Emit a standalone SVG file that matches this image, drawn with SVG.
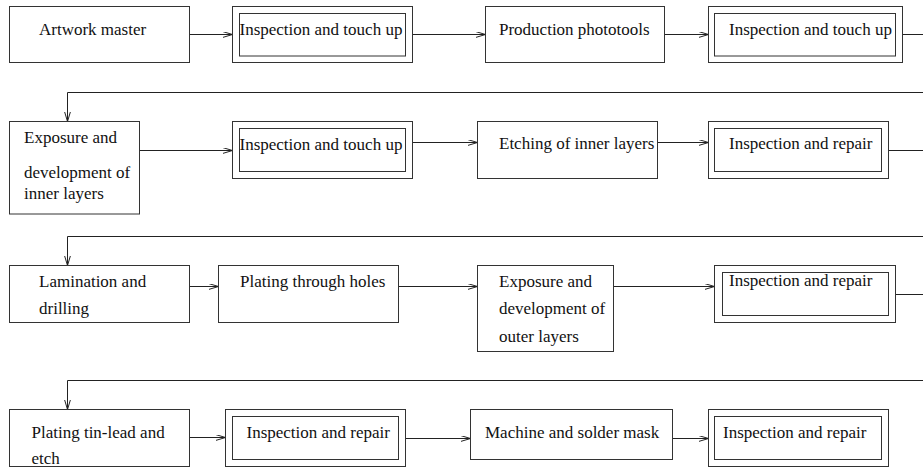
<svg xmlns="http://www.w3.org/2000/svg" width="923" height="468" viewBox="0 0 923 468">
  <defs>
    <marker id="arrow" markerUnits="userSpaceOnUse" markerWidth="12" markerHeight="8" refX="10" refY="3" orient="auto">
      <path d="M0,0 L10,3 L0,6" fill="none" stroke="#222" stroke-width="1"/>
    </marker>
    <style>
      rect { fill: #fff; stroke: #333; stroke-width: 1; }
      text { font-family: "Liberation Serif", "Times New Roman", serif; font-size: 17px; fill: #111; }
      .conn { fill: none; stroke: #222; stroke-width: 1; marker-end: url(#arrow); }
    </style>
  </defs>
  <rect x="0" y="0" width="923" height="468" style="stroke:none;fill:#fff"/>

  <!-- connectors -->
  <g id="connectors">
    <path class="conn" d="M189.5,34.5 H232.5"/>
    <path class="conn" d="M412.5,34.5 H485.5"/>
    <path class="conn" d="M664.5,34.5 H708.5"/>
    <path class="conn" d="M902.5,34.5 H935 V92.5 H67.5 V121.5"/>

    <path class="conn" d="M139.5,150.5 H232.5"/>
    <path class="conn" d="M412.5,142.5 H477.5"/>
    <path class="conn" d="M657.5,142.5 H708.5"/>
    <path class="conn" d="M888.5,150.5 H935 V236.5 H67.5 V265.5"/>

    <path class="conn" d="M189.5,286.5 H218.5"/>
    <path class="conn" d="M398.5,286.5 H477.5"/>
    <path class="conn" d="M613.5,286.5 H714.5"/>
    <path class="conn" d="M895.5,294.5 H935 V380.5 H67.5 V409.5"/>

    <path class="conn" d="M189.5,437.5 H225.5"/>
    <path class="conn" d="M405.5,438.5 H470.5"/>
    <path class="conn" d="M672.5,438.5 H708.5"/>
  </g>

  <!-- row 1 -->
  <g id="artwork-master">
    <rect x="9.5" y="6.5" width="180" height="56"/>
    <text x="39" y="35">Artwork master</text>
  </g>
  <g id="inspect-1">
    <rect x="232.5" y="6.5" width="180" height="56"/>
    <rect x="239.5" y="13.5" width="166" height="42.5"/>
    <text x="239.5" y="35">Inspection and touch up</text>
  </g>
  <g id="production-phototools">
    <rect x="485.5" y="6.5" width="179" height="56"/>
    <text x="499" y="35">Production phototools</text>
  </g>
  <g id="inspect-2">
    <rect x="708.5" y="6.5" width="194" height="56"/>
    <rect x="714.5" y="13.5" width="181" height="42.5"/>
    <text x="729" y="35">Inspection and touch up</text>
  </g>

  <!-- row 2 -->
  <g id="exposure-inner">
    <rect x="9.5" y="121.5" width="130" height="92.5"/>
    <text x="24" y="143">Exposure and</text>
    <text x="24" y="178">development of</text>
    <text x="24" y="199">inner layers</text>
  </g>
  <g id="inspect-3">
    <rect x="232.5" y="121.5" width="180" height="57"/>
    <rect x="239.5" y="128.5" width="166" height="43"/>
    <text x="239.5" y="150">Inspection and touch up</text>
  </g>
  <g id="etching-inner">
    <rect x="477.5" y="121.5" width="180" height="57"/>
    <text x="499" y="149">Etching of inner layers</text>
  </g>
  <g id="inspect-4">
    <rect x="708.5" y="121.5" width="180" height="57"/>
    <rect x="714.5" y="128.5" width="167" height="43"/>
    <text x="729" y="149">Inspection and repair</text>
  </g>

  <!-- row 3 -->
  <g id="lamination">
    <rect x="9.5" y="265.5" width="180" height="57"/>
    <text x="39" y="287">Lamination and</text>
    <text x="39" y="314">drilling</text>
  </g>
  <g id="plating-holes">
    <rect x="218.5" y="265.5" width="180" height="57"/>
    <text x="240" y="287">Plating through holes</text>
  </g>
  <g id="exposure-outer">
    <rect x="477.5" y="265.5" width="136" height="86"/>
    <text x="499" y="287">Exposure and</text>
    <text x="499" y="314">development of</text>
    <text x="499" y="341.5">outer layers</text>
  </g>
  <g id="inspect-5">
    <rect x="714.5" y="265.5" width="181" height="57"/>
    <rect x="722.5" y="272.5" width="166" height="43"/>
    <text x="729" y="286">Inspection and repair</text>
  </g>

  <!-- row 4 -->
  <g id="plating-tin-lead">
    <rect x="9.5" y="409.5" width="180" height="57"/>
    <text x="31.5" y="438">Plating tin-lead and</text>
    <text x="31.5" y="464">etch</text>
  </g>
  <g id="inspect-6">
    <rect x="225.5" y="409.5" width="180" height="57"/>
    <rect x="232.5" y="416.5" width="166" height="43"/>
    <text x="246.5" y="438">Inspection and repair</text>
  </g>
  <g id="machine-solder-mask">
    <rect x="470.5" y="409.5" width="202" height="50"/>
    <text x="485" y="438">Machine and solder mask</text>
  </g>
  <g id="inspect-7">
    <rect x="708.5" y="409.5" width="180" height="57"/>
    <rect x="714.5" y="416.5" width="167" height="43"/>
    <text x="723" y="438">Inspection and repair</text>
  </g>
</svg>
